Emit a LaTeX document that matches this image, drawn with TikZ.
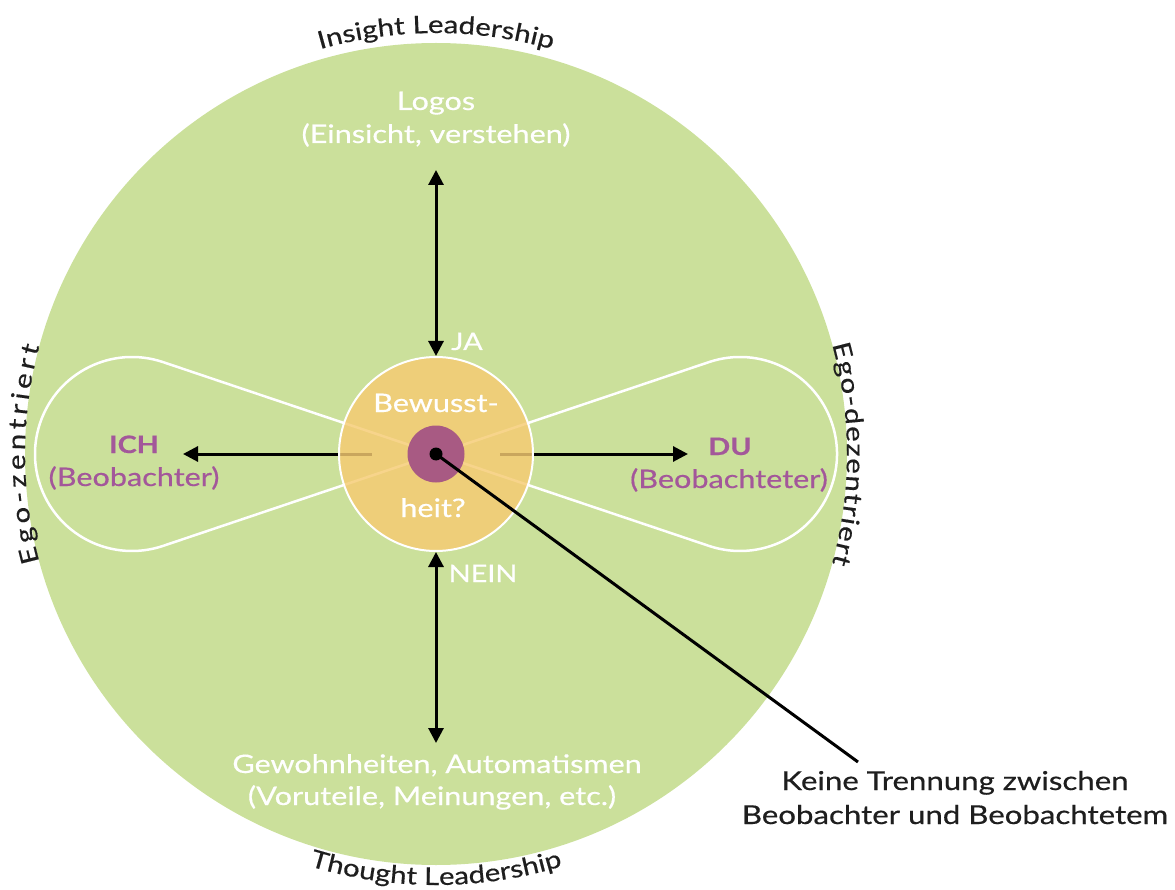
\documentclass[tikz,border=0pt]{standalone}
\usepackage{fontspec}
\setmainfont{Lato}[FakeStretch=1.2, FakeBold=0.5]
\usetikzlibrary{arrows.meta,decorations.text,calc}

\definecolor{leaf}{HTML}{CBE09B}
\definecolor{amber}{HTML}{F6CB72}
\definecolor{plum}{HTML}{A85A83}
\definecolor{plumtext}{HTML}{A3579A}
\definecolor{ink}{HTML}{1E1E1E}

\newcommand\arcfont{\fontsize{24.5}{25}\selectfont}

\begin{document}
\begin{tikzpicture}[x=1pt,y=1pt,
  lbl/.style={font=\fontsize{25.5}{30}\selectfont, text=white, inner sep=0pt, anchor=base},
  yesno/.style={font=\fontsize{24}{30}\selectfont, text=white, inner sep=0pt, anchor=base},
  who/.style={font=\fontsize{24}{30}\selectfont\bfseries, text=plumtext, inner sep=0pt, anchor=base},
  role/.style={font=\fontsize{25.5}{30}\selectfont, text=plumtext, inner sep=0pt, anchor=base},
  note/.style={font=\fontsize{26}{30}\selectfont, text=ink, inner sep=0pt, anchor=base},
  lobe/.style={draw=white, line width=2.5pt, line join=round},
  arr/.style={line width=3pt, -{Triangle[length=15pt,width=15pt]}},
  arrboth/.style={line width=3pt, {Triangle[length=15pt,width=15pt]}-{Triangle[length=15pt,width=15pt]}},
  arctext/.style={decorate, decoration={text along path, text align=center, text color=ink, text={|\arcfont|#1}}},
  sidetext/.style 2 args={decorate, decoration={text effects along path, text={#1}, text align=center,
    text effects/.cd,
      characters={text along path, font=\arcfont, text=ink, anchor=base, inner sep=0pt},
      character widths={font=\arcfont, inner xsep=#2}}}
]
\useasboundingbox (0,0) rectangle (1175,-890);
\coordinate (C) at (436,-454);

% outer field
\fill[leaf] (C) circle[radius=411];

% the two lobes
\draw[lobe] (C) -- ($(C)+(-304,0)+(71.4:97)$) arc[start angle=71.4, end angle=288.6, radius=97] -- cycle;
\draw[lobe] (C) -- ($(C)+(304,0)+(108.6:97)$) arc[start angle=108.6, end angle=-108.6, radius=97] -- cycle;

% horizontal arrows, starting beneath the centre disc
\coordinate (lstart) at (372,-454);
\coordinate (rstart) at (500,-454);
\coordinate (ichtip) at (183,-454);
\coordinate (dutip) at (688,-454);
\draw[arr] (lstart) -- (ichtip);
\draw[arr] (rstart) -- (dutip);

% centre disc
\node[circle, minimum size=194pt, inner sep=0pt, fill=amber, fill opacity=0.82, draw=white, line width=2pt] (bw) at (C) {};
\node[circle, minimum size=57pt, inner sep=0pt, fill=plum] (core) at (C) {};

% vertical arrows
\coordinate (uptip) at (436,-170);
\coordinate (downtip) at (436,-743);
\draw[arrboth] (bw.north) -- (uptip);
\draw[arrboth] (bw.south) -- (downtip);

% leader to the remark
\coordinate (leadend) at (858,-762);
\draw[line width=3pt] (C) -- (leadend);
\node[circle, minimum size=13pt, inner sep=0pt, fill=black] (dot) at (C) {};

% labels
\node[lbl] (logos) at (436,-110) {Logos};
\node[lbl] (einsicht) at (436,-143) {(Einsicht, verstehen)};
\node[yesno] (ja) at (467,-350) {JA};
\node[yesno] (nein) at (483,-582) {NEIN};
\node[lbl] (bew1) at (436,-412) {Bewusst-};
\node[lbl] (bew2) at (433,-517) {heit?};
\node[who] (ich) at (134,-453) {ICH};
\node[role] (ichrole) at (134,-486) {(Beobachter)};
\node[who] (du) at (730,-455) {DU};
\node[role] (durole) at (729,-488) {(Beobachteter)};
\node[lbl] (gew) at (437,-773) {Gewohnheiten, Automatismen};
\node[lbl] (vor) at (432,-805) {(Voruteile, Meinungen, etc.)};
\node[note] (k1) at (955,-790) {Keine Trennung zwischen};
\node[note] (k2) at (955,-824) {Beobachter und Beobachtetem};

% captions around the rim
\path[arctext={Insight Leadership}] ($(C)+(125:421)$) arc[start angle=125, end angle=55, radius=421];
\path[arctext={Thought Leadership}] ($(C)+(235:431)$) arc[start angle=235, end angle=305, radius=431];
\path[sidetext={Ego-zentriert}{2pt}] ($(C)+(200:411)$) arc[start angle=200, end angle=160, radius=411];
\path[sidetext={Ego-dezentriert}{0.7pt}] ($(C)+(20:411)$) arc[start angle=20, end angle=-20, radius=411];
\end{tikzpicture}
\end{document}
